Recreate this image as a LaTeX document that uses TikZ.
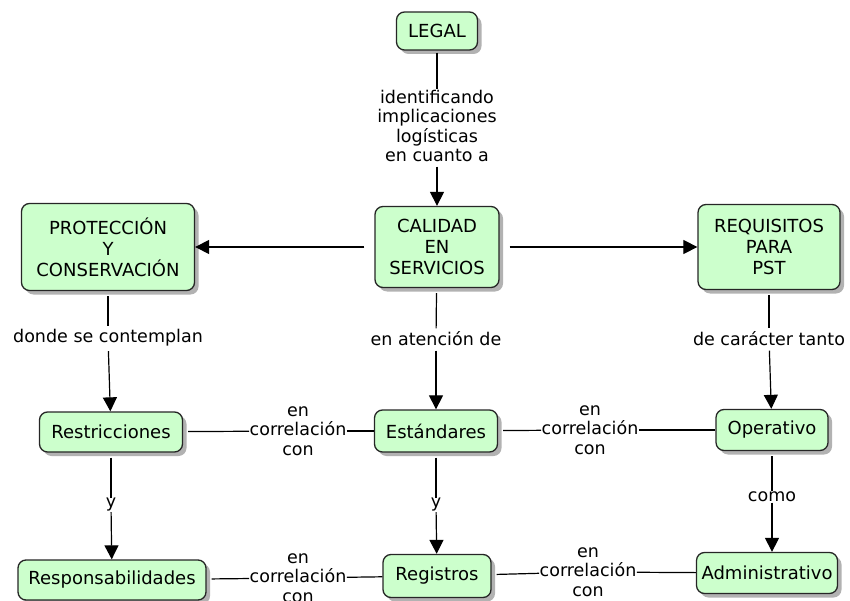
\documentclass[tikz,border=0pt]{standalone}
\usepackage{fontspec}
\setmainfont{DejaVu Sans}
\usetikzlibrary{arrows.meta,shadows}
\definecolor{conceptgreen}{HTML}{CCFFCC}
\begin{document}
\begin{tikzpicture}[x=1pt,y=-1pt,line width=1.2pt,
  concept/.style={draw=black!85,line width=1.3pt,fill=conceptgreen,rounded corners=8pt,align=center,inner sep=2pt,
    font=\fontsize{18}{21}\selectfont,drop shadow={shadow xshift=4pt,shadow yshift=-4pt,fill=black!30,opacity=1}},
  link/.style={align=center,inner sep=0pt,font=\fontsize{17.5}{19.5}\selectfont},
  >={Triangle[length=14pt,width=14pt]}]
\useasboundingbox (0,0) rectangle (850,601);
% concepts
\node[concept,minimum width=81pt,minimum height=38pt] (LEGAL) at (437,31) {LEGAL};
\node[concept,minimum width=124pt,minimum height=81pt] (CAL) at (437,247) {CALIDAD\\EN\\SERVICIOS};
\node[concept,minimum width=173pt,minimum height=87pt] (PROT) at (108,247) {PROTECCIÓN\\Y\\CONSERVACIÓN};
\node[concept,minimum width=142pt,minimum height=85pt] (REQ) at (769,247) {REQUISITOS\\PARA\\PST};
\node[concept,minimum width=143pt,minimum height=40pt] (RES) at (111,432) {Restricciones};
\node[concept,minimum width=123pt,minimum height=42pt] (EST) at (436,431) {Estándares};
\node[concept,minimum width=112pt,minimum height=41pt] (OPE) at (772,430) {Operativo};
\node[concept,minimum width=188pt,minimum height=40pt] (RESP) at (112,580) {Responsabilidades};
\node[concept,minimum width=108pt,minimum height=43pt] (REG) at (437,576) {Registros};
\node[concept,minimum width=141pt,minimum height=41pt] (ADM) at (767,573) {Administrativo};
% linking phrases
\node[link] (l1) at (437,126) {identificando\\implicaciones\\logísticas\\en cuanto a};
\node[link] (l2) at (108,338) {donde se contemplan};
\node[link] (l3) at (436,339) {en atención de};
\node[link] (l4) at (769,339) {de carácter tanto};
\node[link] (l5) at (298,431) {en\\correlación\\con};
\node[link] (l6) at (590,430) {en\\correlación\\con};
\node[link] (l7) at (111,505) {y};
\node[link] (l8) at (436,505) {y};
\node[link] (l9) at (772,497) {como};
\node[link] (l10) at (298,578) {en\\correlación\\con};
\node[link] (l11) at (588,572) {en\\correlación\\con};
% connectors
\draw[shorten <=2pt] (LEGAL) -- (l1);
\draw[->,shorten <=4pt] (l1) -- (CAL);
\draw[->,shorten <=10pt] (CAL) -- (PROT);
\draw[->,shorten <=10pt] (CAL) -- (REQ);
\draw[shorten <=5pt,shorten >=3pt] (PROT) -- (l2);
\draw[->,shorten <=4pt] (l2) -- (RES);
\draw[shorten <=5pt,shorten >=3pt] (CAL) -- (l3);
\draw[->,shorten <=4pt] (l3) -- (EST);
\draw[shorten <=5pt,shorten >=3pt] (REQ) -- (l4);
\draw[->,shorten <=4pt] (l4) -- (OPE);
\draw[shorten <=5pt] (RES) -- (l5);
\draw (l5) -- (EST);
\draw[shorten <=5pt] (EST) -- (l6);
\draw (l6) -- (OPE);
\draw[shorten <=5pt] (RES) -- (l7);
\draw[->] (l7) -- (RESP);
\draw[shorten <=5pt] (EST) -- (l8);
\draw[->] (l8) -- (REG);
\draw[shorten <=5pt] (OPE) -- (l9);
\draw[->] (l9) -- (l9 |- ADM.north);
\draw[shorten <=5pt] (RESP) -- (l10);
\draw (l10) -- (REG);
\draw[shorten <=5pt] (REG) -- (l11);
\draw (l11) -- (ADM);
\end{tikzpicture}
\end{document}
